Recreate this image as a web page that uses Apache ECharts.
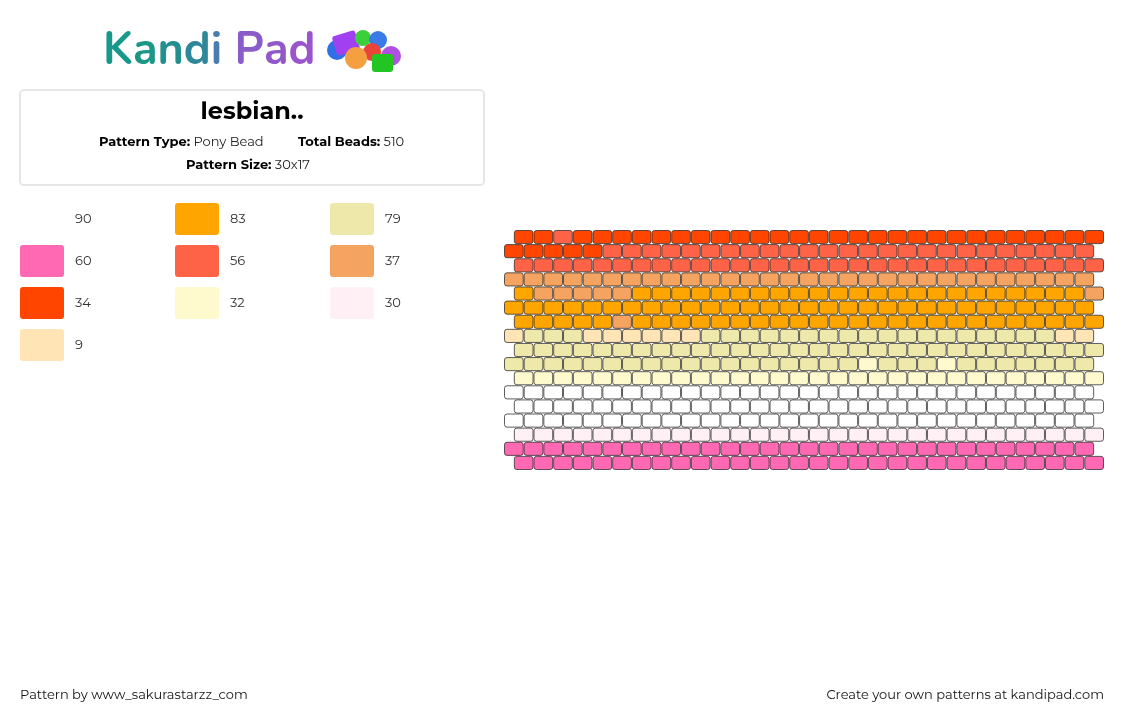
<!DOCTYPE html>
<html>
<head>
<meta charset="utf-8">
<style>html,body{margin:0;padding:0;background:#fff;}#c{width:1124px;height:720px;}</style>
<script src="https://cdn.jsdelivr.net/npm/echarts@6/dist/echarts.min.js"></script>
</head>
<body>
<div id="c"></div>
<script>
// Palette codes
var paletteCodes = ['W','O','G','P','T','S','R','L','V','B'];
var paletteColors = ['#FFFFFF','#FFA500','#EEE8AA','#FF69B4','#FF6347','#F4A460','#FF4500','#FFFACD','#FFF0F5','#FFE4B5'];
var paletteCounts = [90, 83, 79, 60, 56, 37, 34, 32, 30, 9];

// Bead rows (top to bottom), 30 beads each
var beadRows = [
  'RRTRRRRRRRRRRRRRRRRRRRRRRRRRRR',
  'RRRRRTTTTTTTTTTTTTTTTTTTTTTTTT',
  'TTTTTTTTTTTTTTTTTTTTTTTTTTTTTT',
  'SSSSSSSSSSSSSSSSSSSSSSSSSSSSSS',
  'OSSSSSOOOOOOOOOOOOOOOOOOOOOOOS',
  'OOOOOOOOOOOOOOOOOOOOOOOOOOOOOO',
  'OOOOOSOOOOOOOOOOOOOOOOOOOOOOOO',
  'BGGGBBBBBBGGGGGGGGGGGGGGGGGGBB',
  'GGGGGGGGGGGGGGGGGGGGGGGGGGGGGG',
  'GGGGGGGGGGGGGGGGGGLGGGLGGGGGGG',
  'LLLLLLLLLLLLLLLLLLLLLLLLLLLLLL',
  'WWWWWWWWWWWWWWWWWWWWWWWWWWWWWW',
  'WWWWWWWWWWWWWWWWWWWWWWWWWWWWWW',
  'WWWWWWWWWWWWWWWWWWWWWWWWWWWWWW',
  'VVVVVVVVVVVVVVVVVVVVVVVVVVVVVV',
  'PPPPPPPPPPPPPPPPPPPPPPPPPPPPPP',
  'PPPPPPPPPPPPPPPPPPPPPPPPPPPPPP'
];

var patternTitle = 'lesbian..';
var patternType = 'Pony Bead';
var totalBeads = '510';
var patternSize = '30x17';
var author = 'www_sakurastarzz_com';

var data = [];
beadRows.forEach(function (row, r) {
  for (var c = 0; c < row.length; c++) {
    var idx = paletteCodes.indexOf(row[c]);
    data.push([c + (r % 2 === 0 ? 0.5 : 0), r, idx]);
  }
});

var font = 'Montserrat, "Open Sans", "Noto Sans", sans-serif';

var graphics = [];
// Logo (per-letter colours)
var logoLetters = ['K','a','n','d','i',' ','P','a','d'];
var logoColors = ['#16998a','#1b9788','#238f8e','#2f8899','#4a7cb0','#6a6cc0','#8a5cc8','#9258ca','#9a55cc'];
var logoRich = {}, logoText = '';
logoLetters.forEach(function (ch, i) {
  logoRich['l' + i] = {font: 'bold 45px "Nunito", Lato, "Open Sans", sans-serif', fill: logoColors[i]};
  logoText += '{l' + i + '|' + ch + '}';
});
graphics.push({type: 'text', left: 103, top: 31, style: {text: logoText, rich: logoRich}});
// Bead cluster
var clusterBeads = [
  {t:'circle', cx:337, cy:50, r:10, c:'#2f6fe8'},
  {t:'rect', x:334, y:33, w:24, h:20, c:'#a040f0', rot:0.3},
  {t:'circle', cx:363, cy:38, r:8, c:'#3ccf3c'},
  {t:'circle', cx:378, cy:40, r:9, c:'#3b7be8'},
  {t:'circle', cx:372, cy:52, r:9, c:'#e9433a'},
  {t:'circle', cx:356, cy:58, r:11, c:'#f5a040'},
  {t:'circle', cx:391, cy:56, r:10, c:'#b050e0'},
  {t:'rect', x:372, y:54, w:21, h:18, c:'#22c522', rot:0}
];
clusterBeads.forEach(function (b) {
  if (b.t === 'circle') {
    graphics.push({type:'circle', shape:{cx:b.cx, cy:b.cy, r:b.r}, style:{fill:b.c}});
  } else {
    graphics.push({type:'rect', x:b.x + b.w/2, y:b.y + b.h/2, rotation:b.rot || 0,
      shape:{x:-b.w/2, y:-b.h/2, width:b.w, height:b.h, r:3}, style:{fill:b.c}});
  }
});
// Info box
graphics.push({type:'rect', shape:{x:20, y:90, width:464, height:95, r:4}, style:{fill:'#fff', stroke:'#e6e6e6', lineWidth:2}});
graphics.push({type:'text', x:252, y:112, style:{text:patternTitle, font:'bold 24px ' + font, fill:'#000', align:'center', verticalAlign:'middle'}});
graphics.push({type:'text', x:99, y:142, style:{
  text:'{b|Pattern Type:} {n|' + patternType + '}', verticalAlign:'middle',
  rich:{b:{font:'bold 13px ' + font, fill:'#000'}, n:{font:'13px ' + font, fill:'#222'}}}});
graphics.push({type:'text', x:298, y:142, style:{
  text:'{b|Total Beads:} {n|' + totalBeads + '}', verticalAlign:'middle',
  rich:{b:{font:'bold 13px ' + font, fill:'#000'}, n:{font:'13px ' + font, fill:'#222'}}}});
graphics.push({type:'text', x:248, y:165, style:{
  text:'{b|Pattern Size:} {n|' + patternSize + '}', verticalAlign:'middle', align:'center',
  rich:{b:{font:'bold 13px ' + font, fill:'#000'}, n:{font:'13px ' + font, fill:'#222'}}}});
// Legend
paletteColors.forEach(function (col, i) {
  var cx = i % 3, ry = Math.floor(i / 3);
  var x = 20 + cx * 155, y = 203 + ry * 42;
  graphics.push({type:'rect', shape:{x:x, y:y, width:44, height:32, r:3}, style:{fill:col}});
  graphics.push({type:'text', x:x + 55, y:y + 16, style:{text:String(paletteCounts[i]), font:'13px ' + font, fill:'#333', verticalAlign:'middle'}});
});
// Footer
graphics.push({type:'text', x:20, y:695, style:{text:'Pattern by ' + author, font:'13px ' + font, fill:'#111', verticalAlign:'middle'}});
graphics.push({type:'text', x:1104, y:695, style:{text:'Create your own patterns at kandipad.com', font:'13px ' + font, fill:'#111', verticalAlign:'middle', align:'right'}});

var chart = echarts.init(document.getElementById('c'), null, {renderer:'canvas'});
chart.setOption({
  animation: false,
  backgroundColor: '#fff',
  grid: {left: 504, top: 230, width: 600, height: 240},
  xAxis: {type:'value', min:0, max:30.5, show:false},
  yAxis: {type:'value', min:0, max:17, inverse:true, show:false},
  graphic: graphics,
  series: [{
    type: 'custom',
    data: data,
    renderItem: function (params, api) {
      var p = api.coord([api.value(0), api.value(1)]);
      var s = api.size([1, 1]);
      return {
        type: 'rect',
        shape: {x: p[0] + 0.5, y: p[1] + 0.5, width: s[0] - 1, height: s[1] - 1, r: 2.5},
        style: {fill: paletteColors[api.value(2)], stroke: 'rgba(40,40,40,0.75)', lineWidth: 1}
      };
    }
  }]
});
</script>
</body>
</html>
